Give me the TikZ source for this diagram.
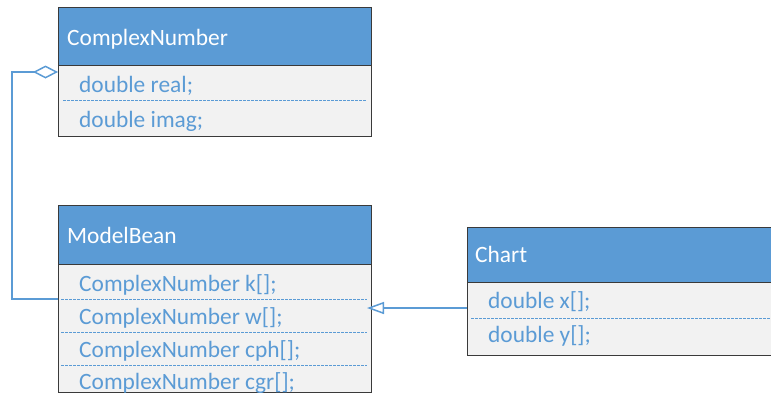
\documentclass[tikz,border=0pt]{standalone}
\usepackage{fontspec}
\setmainfont{Carlito}
\usetikzlibrary{arrows.meta}
\definecolor{umlblue}{HTML}{5B9BD5}
\definecolor{umlbody}{HTML}{F2F2F2}
\definecolor{umledge}{HTML}{3A3A3A}
\definecolor{umltext}{HTML}{5B9BD5}
\tikzset{
  hdrbox/.style={draw=umledge, fill=umlblue, line width=0.9pt, anchor=north west, inner sep=0pt},
  bodybox/.style={draw=umledge, fill=umlbody, line width=0.9pt, anchor=north west, inner sep=0pt},
  hdrtext/.style={anchor=base west, inner sep=0pt, text=white, font=\fontsize{23.4}{28}\selectfont},
  fieldtext/.style={anchor=base west, inner sep=0pt, text=umltext, font=\fontsize{23.4}{28}\selectfont},
  sepline/.style={draw=umlblue, line width=1pt, dash pattern=on 2.5pt off 1.5pt},
  conn/.style={draw=umlblue, line width=1.5pt}
}
\begin{document}
\begin{tikzpicture}[x=1pt,y=-1pt]
\useasboundingbox (0,0) rectangle (771,394);

% ComplexNumber class
\node[hdrbox, minimum width=313pt, minimum height=58pt] (cnh) at (58,7) {};
\node[bodybox, minimum width=313pt, minimum height=71pt] (cnb) at (58,65) {};
\node[hdrtext] (cnt) at (67,45) {ComplexNumber};
\node[fieldtext] (cnf1) at (79,92) {double real;};
\node[fieldtext] (cnf2) at (79,127) {double imag;};
\draw[sepline] (63,100) -- (367,100);

% ModelBean class
\node[hdrbox, minimum width=313pt, minimum height=59pt] (mbh) at (58,205) {};
\node[bodybox, minimum width=313pt, minimum height=128pt] (mbb) at (58,264) {};
\node[hdrtext] (mbt) at (67,243) {ModelBean};
\node[fieldtext] (mbf1) at (79,291.5) {ComplexNumber k[];};
\node[fieldtext] (mbf2) at (79,324) {ComplexNumber w[];};
\node[fieldtext] (mbf3) at (79,357) {ComplexNumber cph[];};
\node[fieldtext] (mbf4) at (79,389) {ComplexNumber cgr[];};
\draw[sepline] (61,299) -- (367,299);
\draw[sepline] (61,332) -- (367,332);
\draw[sepline] (61,365) -- (367,365);

% Chart class (runs past the right edge)
\node[hdrbox, minimum width=320pt, minimum height=55pt] (chh) at (467,227) {};
\node[bodybox, minimum width=320pt, minimum height=73pt] (chb) at (467,282) {};
\node[hdrtext] (cht) at (475,262) {Chart};
\node[fieldtext] (chf1) at (488,308) {double x[];};
\node[fieldtext] (chf2) at (488,342) {double y[];};
\draw[sepline] (471,318) -- (771,318);

% Connector end points
\coordinate (cnAgg) at (58,72);
\coordinate (mbAgg) at (58,299);
\coordinate (mbGen) at (371,308);
\coordinate (chGen) at (467,308);

% Aggregation: ModelBean holds ComplexNumber
\draw[conn, -{Diamond[open, fill=white, length=25pt, width=13pt, line width=1.5pt]}]
  (mbAgg) -- ++(-46,0) |- (cnAgg);

% Generalization: Chart -> ModelBean
\draw[conn, shorten >=-4pt, -{Triangle[open, fill=white, length=17pt, width=12pt, line width=1.5pt]}]
  (chGen) -- (mbGen);
\end{tikzpicture}
\end{document}
